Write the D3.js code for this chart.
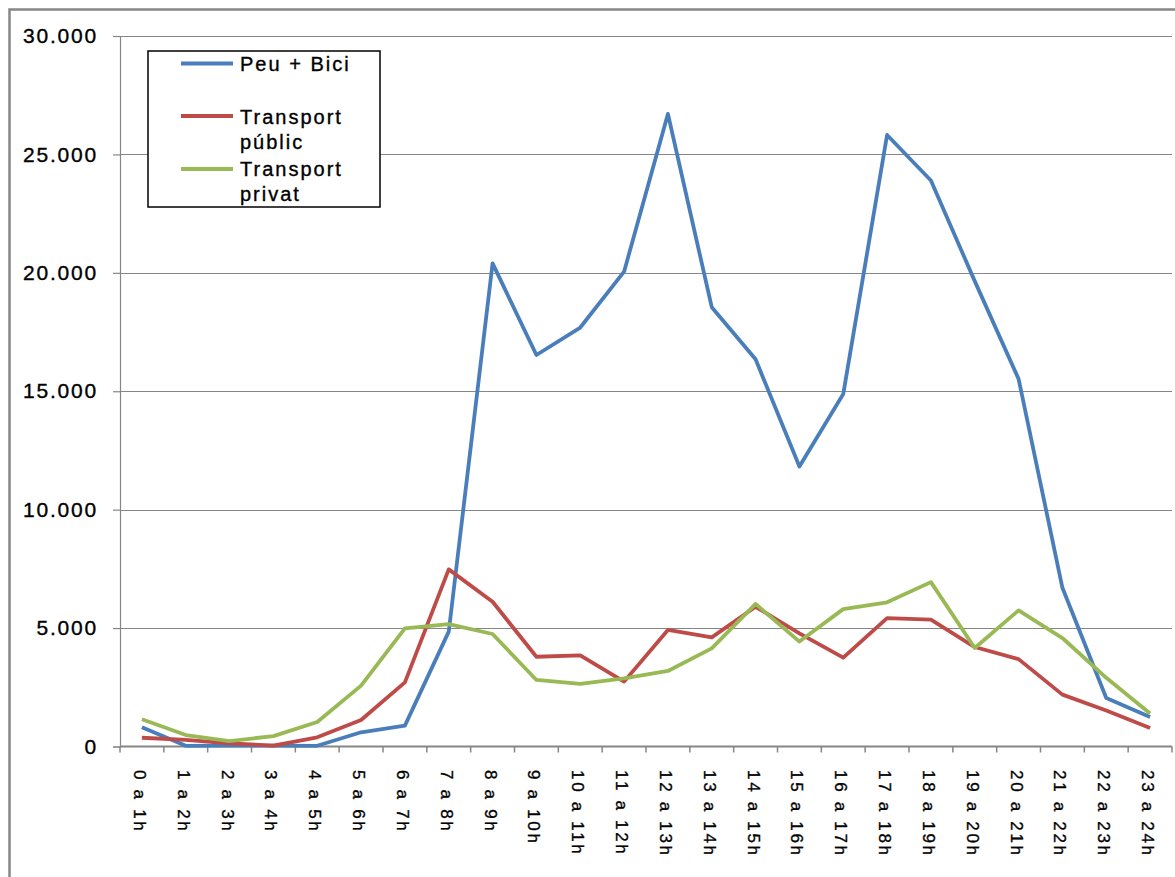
<!DOCTYPE html>
<html>
<head>
<meta charset="utf-8">
<script src="https://cdn.jsdelivr.net/npm/d3@7"></script>
<style>
  html, body { margin: 0; padding: 0; background: #fff; }
  svg { display: block; font-family: "Liberation Sans", Arial, sans-serif; }
  text { stroke: #000; stroke-width: 0.35px; }
</style>
</head>
<body>
<svg id="chart" width="1175" height="877"></svg>
<script>
const categories = ["0 a 1h","1 a 2h","2 a 3h","3 a 4h","4 a 5h","5 a 6h","6 a 7h","7 a 8h","8 a 9h","9 a 10h","10 a 11h","11 a 12h","12 a 13h","13 a 14h","14 a 15h","15 a 16h","16 a 17h","17 a 18h","18 a 19h","19 a 20h","20 a 21h","21 a 22h","22 a 23h","23 a 24h"];
const peuBici = [810, 30, 40, 40, 30, 600, 880, 4850, 20400, 16530, 17690, 20050, 26710, 18550, 16350, 11820, 14880, 25820, 23900, 19650, 15520, 6700, 2050, 1250];
const transportPublic = [370, 280, 130, 40, 390, 1120, 2710, 7480, 6110, 3790, 3850, 2740, 4920, 4610, 5900, 4780, 3750, 5420, 5360, 4200, 3690, 2190, 1520, 780];
const transportPrivat = [1150, 485, 230, 440, 1035, 2570, 4990, 5170, 4750, 2810, 2640, 2880, 3190, 4145, 6020, 4430, 5800, 6090, 6940, 4160, 5750, 4580, 2900, 1390];
const yTicks = [0, 5000, 10000, 15000, 20000, 25000, 30000];
const seriesNames = [["Peu + Bici"], ["Transport", "públic"], ["Transport", "privat"]];
const seriesColors = ["#4a7ebb", "#be4b48", "#98b954"];

const svg = d3.select("#chart");
const plotL = 120, plotR = 1172, plotT = 36, plotB = 746.5;

const x = d3.scaleBand().domain(categories).range([plotL, plotR]);
const y = d3.scaleLinear().domain([0, 30000]).range([plotB, plotT]);
const loc = d3.formatLocale({decimal: ",", thousands: ".", grouping: [3], currency: ["", "€"]});
const fmt = loc.format(",");

// outer chart border
svg.append("rect").attr("x", 9.5).attr("y", 9.5).attr("width", 1250).attr("height", 950)
  .attr("fill", "none").attr("stroke", "#868686").attr("stroke-width", 2.5);

// gridlines
svg.append("g").selectAll("line").data(yTicks.filter(d => d > 0)).join("line")
  .attr("x1", plotL).attr("x2", plotR)
  .attr("y1", d => Math.round(y(d)) + 0.5).attr("y2", d => Math.round(y(d)) + 0.5)
  .attr("stroke", "#868686").attr("stroke-width", 1);

// y axis
const yAxis = svg.append("g").attr("transform", `translate(${plotL},0)`)
  .call(d3.axisLeft(y).tickValues(yTicks).tickFormat(fmt).tickSize(7).tickPadding(15));
yAxis.select(".domain").attr("stroke", "#868686").attr("stroke-width", 1.2);
yAxis.selectAll(".tick line").attr("stroke", "#868686").attr("stroke-width", 1.2);
yAxis.selectAll(".tick text").attr("font-size", 21).attr("fill", "#000")
  .attr("font-family", "Liberation Sans, Arial, sans-serif").style("letter-spacing", "1.8px");

// x axis
const xAxis = svg.append("g").attr("transform", `translate(0,${plotB})`);
xAxis.append("line").attr("x1", plotL).attr("x2", plotR).attr("y1", 0).attr("y2", 0)
  .attr("stroke", "#868686").attr("stroke-width", 2);
const bounds = categories.map(c => x(c)).concat([plotR]);
xAxis.selectAll("line.tk").data(bounds).join("line").attr("class", "tk")
  .attr("x1", d => d).attr("x2", d => d).attr("y1", 0).attr("y2", 6)
  .attr("stroke", "#868686").attr("stroke-width", 1.5);
xAxis.selectAll("text").data(categories).join("text")
  .attr("transform", d => `translate(${x(d) + x.bandwidth() / 2 - 2},${770 - plotB}) rotate(90)`)
  .attr("dy", "0.35em")
  .attr("font-size", 17).attr("fill", "#000").style("letter-spacing", "2.7px")
  .text(d => d);

// lines
const series = [peuBici, transportPublic, transportPrivat];
const line = d3.line().x((d, i) => x(categories[i]) + x.bandwidth() / 2).y(d => y(d));
svg.append("g").selectAll("path").data(series).join("path")
  .attr("d", d => line(d)).attr("fill", "none")
  .attr("stroke", (d, i) => seriesColors[i]).attr("stroke-width", 3.8)
  .attr("stroke-linejoin", "round");

// legend
const lg = svg.append("g");
lg.append("rect").attr("x", 148).attr("y", 51).attr("width", 232).attr("height", 156)
  .attr("fill", "#fff").attr("stroke", "#000").attr("stroke-width", 1.5);
const lineY = [63.5, 116, 169];
const textY = [[71], [124, 149], [176, 201]];
seriesNames.forEach((names, i) => {
  lg.append("line").attr("x1", 181).attr("x2", 233).attr("y1", lineY[i]).attr("y2", lineY[i])
    .attr("stroke", seriesColors[i]).attr("stroke-width", 3.8);
  names.forEach((t, j) => {
    lg.append("text").attr("x", 240).attr("y", textY[i][j]).attr("font-size", 20)
      .style("letter-spacing", "2px").attr("fill", "#000").text(t);
  });
});
</script>
</body>
</html>
